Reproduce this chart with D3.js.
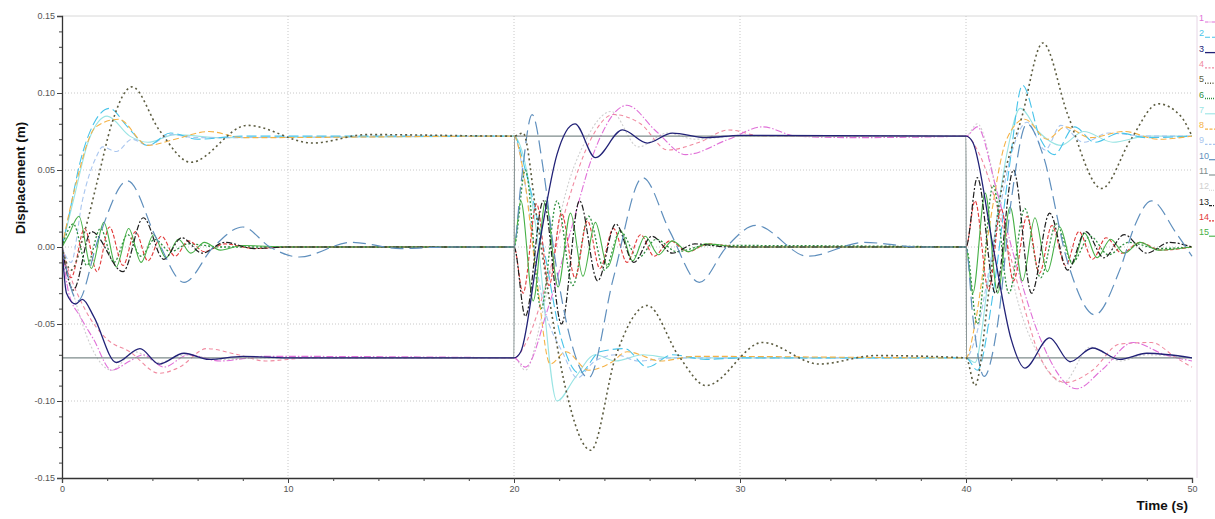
<!DOCTYPE html>
<html><head><meta charset="utf-8">
<script src="https://cdn.jsdelivr.net/npm/d3@7"></script>
<style>
html,body{margin:0;padding:0;background:#fff;}
svg{display:block;}
.tick text{font-family:"Liberation Sans Narrow","Liberation Sans",Arial,sans-serif;font-size:9px;fill:#555;}
</style></head>
<body>
<svg id="chart" width="1215" height="519"></svg>
<script>
// ---- data (time s, displacement m) ----
const seriesLabels = ["1","2","3","4","5","6","7","8","9","10","11","12","13","14","15"];
const xTickValues = [0,10,20,30,40,50];
const yTickValues = [-0.15,-0.10,-0.05,0.00,0.05,0.10,0.15];

const s1 = [[0,0],[0.3,-0.03],[0.8,-0.045],[1.4,-0.06],[2.2,-0.08],[3,-0.074],[3.6,-0.07],[4.5,-0.078],[5.6,-0.07],[7,-0.074],[9,-0.071],[20,-0.072],
  [20.5,-0.078],[21.5,-0.04],[22.5,0.01],[23.5,0.06],[25,0.092],[26.3,0.075],[27.6,0.06],[29.5,0.07],[31,0.078],[32.5,0.072],[35,0.071],[40,0.072],
  [40.5,0.078],[41.3,0.04],[42.2,-0.01],[43.3,-0.06],[44.9,-0.092],[46,-0.08],[47.4,-0.062],[48.8,-0.07],[50,-0.074]];
const s2 = [[0,0],[0.3,0.02],[0.8,0.055],[1.4,0.08],[2.1,0.09],[2.9,0.078],[3.8,0.066],[4.8,0.074],[6,0.07],[8,0.072],[20,0.072],
  [20.5,0.05],[21.3,0],[22.1,-0.06],[22.9,-0.082],[23.8,-0.068],[24.9,-0.066],[25.9,-0.078],[27,-0.07],[28.5,-0.073],[30,-0.072],[40,-0.072],
  [40.5,-0.08],[41.2,-0.03],[41.9,0.05],[42.5,0.105],[43.3,0.07],[43.9,0.06],[44.8,0.078],[45.7,0.068],[46.8,0.074],[48,0.071],[50,0.072]];
const s3 = [[0,0],[0.2,-0.03],[0.6,-0.037],[0.9,-0.034],[1.4,-0.045],[2.4,-0.075],[3.45,-0.066],[4.3,-0.076],[5.4,-0.069],[6.5,-0.073],[8,-0.071],[10,-0.072],[20,-0.072],
  [20.3,-0.068],[21.1,0],[21.9,0.06],[22.7,0.08],[23.6,0.058],[24.8,0.076],[25.9,0.0675],[27,0.074],[28.5,0.071],[30,0.0725],[40,0.072],
  [40.3,0.068],[41.2,0],[42,-0.06],[42.6,-0.0786],[43.7,-0.059],[44.6,-0.0745],[45.6,-0.0656],[46.8,-0.073],[48,-0.069],[50,-0.072]];
const s4 = [[0,0],[0.4,-0.02],[1,-0.04],[2,-0.06],[3,-0.068],[4.3,-0.082],[5.2,-0.078],[6.4,-0.066],[7.8,-0.07],[9,-0.074],[11,-0.072],[20,-0.072],
  [20.6,-0.06],[21.5,-0.02],[22.4,0.03],[23.4,0.07],[24.4,0.086],[25.6,0.08],[26.8,0.063],[28.2,0.068],[29.5,0.076],[31,0.072],[40,0.072],
  [40.6,0.06],[41.5,0.02],[42.4,-0.03],[43.4,-0.075],[44.4,-0.088],[45.6,-0.08],[46.8,-0.063],[48.2,-0.062],[49.3,-0.072],[50,-0.078]];
const s5 = [[0,0],[0.4,-0.015],[1,0.01],[1.6,0.045],[2.2,0.08],[3.1,0.104],[4.3,0.076],[5.7,0.055],[8.2,0.079],[11.1,0.0675],[13.5,0.073],[20,0.072],
  [20.4,0.074],[21,0.02],[21.5,-0.028],[22.3,-0.093],[23.4,-0.132],[24.5,-0.071],[25.9,-0.038],[27.3,-0.071],[28.5,-0.09],[31,-0.062],[33.5,-0.076],[36,-0.0705],[40,-0.072],
  [40.4,-0.09],[41,-0.03],[41.4,0.021],[42.5,0.086],[43.4,0.1325],[44.5,0.086],[46,0.038],[47.3,0.07],[48.5,0.093],[49.5,0.085],[50,0.072]];
const s6 = [[0,0],[0.5,0.015],[1.1,-0.012],[1.7,0.012],[2.3,-0.01],[2.9,0.008],[3.5,-0.006],[4.1,0.005],[4.8,-0.003],[5.6,0.002],[7,0],[20,0],
  [20.5,0.05],[21.2,-0.04],[21.9,0.03],[22.6,-0.025],[23.3,0.02],[24,-0.015],[24.7,0.01],[25.5,-0.007],[26.3,0.005],[27.2,-0.003],[28.5,0.001],[40,0],
  [40.5,-0.05],[41.2,0.04],[41.9,-0.03],[42.6,0.025],[43.3,-0.02],[44,0.015],[44.7,-0.01],[45.5,0.007],[46.3,-0.005],[47.2,0.003],[48.5,-0.001],[50,0]];
const s7 = [[0,0],[0.5,0.03],[1.2,0.07],[2,0.085],[3,0.072],[3.8,0.068],[5,0.073],[7,0.071],[20,0.072],
  [20.4,0.06],[21,0.01],[21.9,-0.1],[22.7,-0.085],[23.6,-0.07],[24.5,-0.074],[25.7,-0.07],[27,-0.072],[40,-0.072],
  [40.4,-0.075],[41,-0.02],[41.8,0.06],[42.4,0.09],[43.2,0.075],[44.2,0.066],[45.2,0.075],[46.5,0.068],[48,0.072],[50,0.072]];
const s8 = [[0,0],[0.6,0.04],[1.5,0.078],[2.5,0.083],[3.8,0.066],[5,0.07],[6.5,0.075],[8,0.071],[20,0.072],
  [20.4,0.05],[21,-0.02],[21.6,-0.076],[22.3,-0.068],[23.3,-0.08],[24.3,-0.075],[25,-0.068],[26.5,-0.074],[28,-0.071],[40,-0.072],
  [40.4,-0.05],[41,0.01],[41.8,0.07],[42.6,0.083],[43.6,0.07],[44.4,0.078],[45.5,0.071],[47,0.075],[48.5,0.07],[50,0.072]];
const s9 = [[0,0],[0.4,-0.01],[0.9,0.03],[1.5,0.058],[1.8,0.065],[2.4,0.062],[3.1,0.07],[3.8,0.066],[4.8,0.073],[6,0.071],[20,0.072],
  [20.5,0.04],[21.2,-0.03],[22.2,-0.07],[22.8,-0.085],[23.5,-0.075],[24.5,-0.07],[25.5,-0.074],[27,-0.072],[40,-0.072],
  [40.4,-0.06],[41.2,0],[42,0.06],[42.7,0.081],[43.5,0.063],[44.2,0.079],[45.2,0.068],[46.3,0.074],[48,0.072],[50,0.072]];
const s10 = [[0,0],[0.7,-0.035],[1.6,0.005],[2.9,0.043],[4.2,0.005],[5.4,-0.023],[6.7,0],[8,0.013],[9.2,0],[10.5,-0.0065],[12.8,0.003],[15,-0.001],[17,0],[20,0],
  [20.3,0.04],[20.8,0.086],[21.3,0.05],[21.8,-0.006],[22.5,-0.06],[23.3,-0.085],[24.4,-0.02],[25.7,0.045],[26.9,0.01],[28.2,-0.023],[29.4,0],[30.7,0.014],[33,-0.006],[35.5,0.003],[38,0],[40,0],
  [40.3,-0.045],[40.8,-0.084],[41.4,-0.05],[42,0.03],[42.7,0.08],[43.4,0.06],[44.5,-0.01],[45.7,-0.044],[46.8,-0.015],[47.5,0.015],[48.2,0.03],[49.3,0.009],[50,-0.006]];
const s11 = [[0,0],[0.02,-0.072],[20,-0.072],[20.02,0.072],[40,0.072],[40.02,-0.072],[50,-0.072]];
const s12 = [[0,0],[0.5,-0.03],[1.3,-0.065],[2.2,-0.08],[3.2,-0.068],[4.3,-0.075],[5.5,-0.07],[7,-0.073],[9,-0.072],[20,-0.072],
  [20.5,-0.08],[21.3,-0.04],[22.2,0.03],[23.2,0.07],[24.3,0.088],[25.5,0.065],[26.8,0.074],[28,0.07],[30,0.072],[40,0.072],
  [40.5,0.08],[41.3,0.04],[42.2,-0.03],[43.2,-0.07],[44.3,-0.088],[45.5,-0.065],[46.8,-0.074],[48,-0.07],[50,-0.072]];
const s13 = [[0,0],[0.5,-0.028],[1.3,0.01],[2.7,-0.016],[3.6,0.019],[4.5,-0.008],[5.3,0.006],[6.2,-0.004],[7.2,0.003],[8.5,-0.001],[10,0],[20,0],
  [20.5,-0.045],[21.3,0.03],[22.1,-0.05],[22.9,0.03],[23.7,-0.022],[24.5,0.015],[25.3,-0.01],[26.1,0.007],[27,-0.004],[28,0.002],[29.5,0],[40,0],
  [40.5,0.045],[41.3,-0.03],[42.1,0.05],[42.9,-0.03],[43.7,0.022],[44.5,-0.015],[45.3,0.01],[46.1,-0.007],[47,0.008],[48,-0.004],[49,0.003],[50,0]];
const s14 = [[0,0],[0.4,-0.02],[1,0.012],[1.55,-0.016],[2.1,0.013],[2.7,-0.012],[3.25,0.01],[3.8,-0.009],[4.4,0.007],[5,-0.006],[5.6,0.004],[6.3,-0.003],[7.2,0.002],[8.5,-0.001],[10,0],[20,0],
  [20.4,-0.03],[21,0.028],[21.55,-0.025],[22.1,0.022],[22.7,-0.02],[23.25,0.017],[23.8,-0.014],[24.4,0.012],[25,-0.01],[25.6,0.008],[26.2,-0.006],[26.9,0.004],[27.7,-0.003],[28.6,0.002],[30,0],[40,0],
  [40.4,0.03],[41,-0.028],[41.55,0.025],[42.1,-0.022],[42.7,0.02],[43.25,-0.017],[43.8,0.014],[44.4,-0.012],[45,0.01],[45.6,-0.008],[46.2,0.006],[46.9,-0.004],[47.7,0.003],[48.6,-0.002],[50,0]];
const s15 = [[0,0],[0.3,0.008],[0.75,0.02],[1.3,-0.014],[1.85,0.016],[2.4,-0.013],[2.95,0.012],[3.5,-0.01],[4.05,0.008],[4.6,-0.007],[5.15,0.005],[5.7,-0.004],[6.3,0.003],[7,-0.002],[8,0.001],[10,0],[20,0],
  [20.3,0.03],[20.85,-0.035],[21.4,0.03],[21.95,-0.026],[22.5,0.022],[23.05,-0.019],[23.6,0.016],[24.15,-0.013],[24.7,0.011],[25.25,-0.009],[25.8,0.007],[26.4,-0.005],[27,0.004],[27.7,-0.003],[28.5,0.002],[30,0],[40,0],
  [40.3,-0.03],[40.85,0.035],[41.4,-0.03],[41.95,0.026],[42.5,-0.022],[43.05,0.019],[43.6,-0.016],[44.15,0.013],[44.7,-0.011],[45.25,0.009],[45.8,-0.007],[46.4,0.005],[47,-0.004],[47.7,0.003],[48.5,-0.002],[50,0]];

const allSeries = [s1,s2,s3,s4,s5,s6,s7,s8,s9,s10,s11,s12,s13,s14,s15];

// ---- styles ----
const colors = ["#e070d8","#48c4ea","#222277","#f08aa0","#5c5c40","#2f8f3f","#9ae4e4","#f5b246","#a9c6ef","#5f8fbd","#7f8c8c","#cfcfcf","#1e1e1e","#e23a3a","#46b046"];
const dashes = ["7,2,1.5,2","10,4",null,"4,3","2,3","2,2",null,"6,3","5,3","13,6",null,"2,2","6,2,2,2","4,2",null];
const widths = [1.1,1.1,1.3,1.1,1.6,1.3,1.1,1.1,1.1,1.2,1.1,1.1,1.2,1.1,1.1];

(function(){
const mLeft=62,mRight=1192,mTop=16,mBottom=478;
const svg=d3.select("#chart");
const x=d3.scaleLinear().domain([0,50]).range([mLeft,mRight]);
const y=d3.scaleLinear().domain([-0.15,0.15]).range([mBottom,mTop]);

// frame (top/right)
svg.append("line").attr("x1",mLeft).attr("x2",mRight+5).attr("y1",mTop).attr("y2",mTop).attr("stroke","#d8d8d8");
svg.append("line").attr("x1",mRight+5).attr("x2",mRight+5).attr("y1",mTop).attr("y2",mBottom).attr("stroke","#e6d6e6");

// grid
const gridX=[10,20,30,40], gridY=[-0.10,-0.05,0,0.05,0.10];
svg.append("g").selectAll("line").data(gridX).join("line")
  .attr("x1",d=>x(d)).attr("x2",d=>x(d)).attr("y1",mTop).attr("y2",mBottom)
  .attr("stroke","#c8c8c8").attr("stroke-width",1).attr("stroke-dasharray","1,2");
svg.append("g").selectAll("line").data(gridY).join("line")
  .attr("x1",mLeft).attr("x2",mRight).attr("y1",d=>y(d)).attr("y2",d=>y(d))
  .attr("stroke","#c8c8c8").attr("stroke-width",1).attr("stroke-dasharray","1,2");

// lines
svg.append("clipPath").attr("id","clip").append("rect").attr("x",mLeft).attr("y",mTop).attr("width",mRight-mLeft+1).attr("height",mBottom-mTop);
const line=d3.line().x(d=>x(d[0])).y(d=>y(d[1])).curve(d3.curveMonotoneX);
const gl=svg.append("g").attr("clip-path","url(#clip)");
const order=[12,7,9,2,8,4,1,6,14,15,13,10,11,5,3];
order.forEach(k=>{
  const i=k-1;
  const p=gl.append("path").datum(allSeries[i]).attr("d",line)
    .attr("fill","none").attr("stroke",colors[i]).attr("stroke-width",widths[i])
    .attr("stroke-linejoin","round");
  if(dashes[i]) p.attr("stroke-dasharray",dashes[i]);
});

// axes
const fmt=d=>d3.format(".2f")(d).replace("\u2212","-");
svg.append("g").attr("transform",`translate(${mLeft},0)`)
  .call(d3.axisLeft(y).tickValues(yTickValues).tickFormat(fmt).tickSize(5).tickPadding(2));
const yMinorVals=d3.range(-15,16).map(v=>v/100);
svg.append("g").attr("transform",`translate(${mLeft},0)`)
  .call(d3.axisLeft(y).tickValues(yMinorVals).tickFormat("").tickSize(3))
  .call(g=>g.select(".domain").remove());
svg.append("g").attr("transform",`translate(0,${mBottom})`)
  .call(d3.axisBottom(x).tickValues(xTickValues).tickFormat(d3.format("d")).tickSize(5).tickPadding(3));
const xMinorVals=d3.range(0,51,2);
svg.append("g").attr("transform",`translate(0,${mBottom})`)
  .call(d3.axisBottom(x).tickValues(xMinorVals).tickFormat("").tickSize(3))
  .call(g=>g.select(".domain").remove());
svg.selectAll(".domain").attr("stroke","#333").attr("stroke-width",1.3);
svg.selectAll(".tick line").attr("stroke","#444");

// axis titles
svg.append("text").attr("transform","translate(25,178) rotate(-90)")
  .attr("text-anchor","middle").style("font-family","'Liberation Sans',Arial,sans-serif")
  .style("font-weight","bold").style("font-size","13.5px").attr("fill","#111").text("Displacement (m)");
svg.append("text").attr("x",1188).attr("y",510).attr("text-anchor","end")
  .style("font-family","'Liberation Sans',Arial,sans-serif").style("font-weight","bold")
  .style("font-size","13.5px").attr("fill","#111").text("Time (s)");

// legend
const lg=svg.append("g");
seriesLabels.forEach((lab,i)=>{
  const yy=21+i*15.3;
  lg.append("text").attr("x",1199).attr("y",yy).style("font-family","'Liberation Sans Narrow','Liberation Sans',Arial,sans-serif")
    .style("font-size","9px").attr("fill",colors[i]).text(lab);
  const lx=lab.length>1?1209:1205;
  const l=lg.append("line").attr("x1",lx).attr("x2",1215).attr("y1",yy+1).attr("y2",yy+1)
    .attr("stroke",colors[i]).attr("stroke-width",widths[i]);
  if(dashes[i]) l.attr("stroke-dasharray",dashes[i].split(",").map(v=>Math.max(1,+v/2)).join(","));
});
})();
</script>
</body></html>
